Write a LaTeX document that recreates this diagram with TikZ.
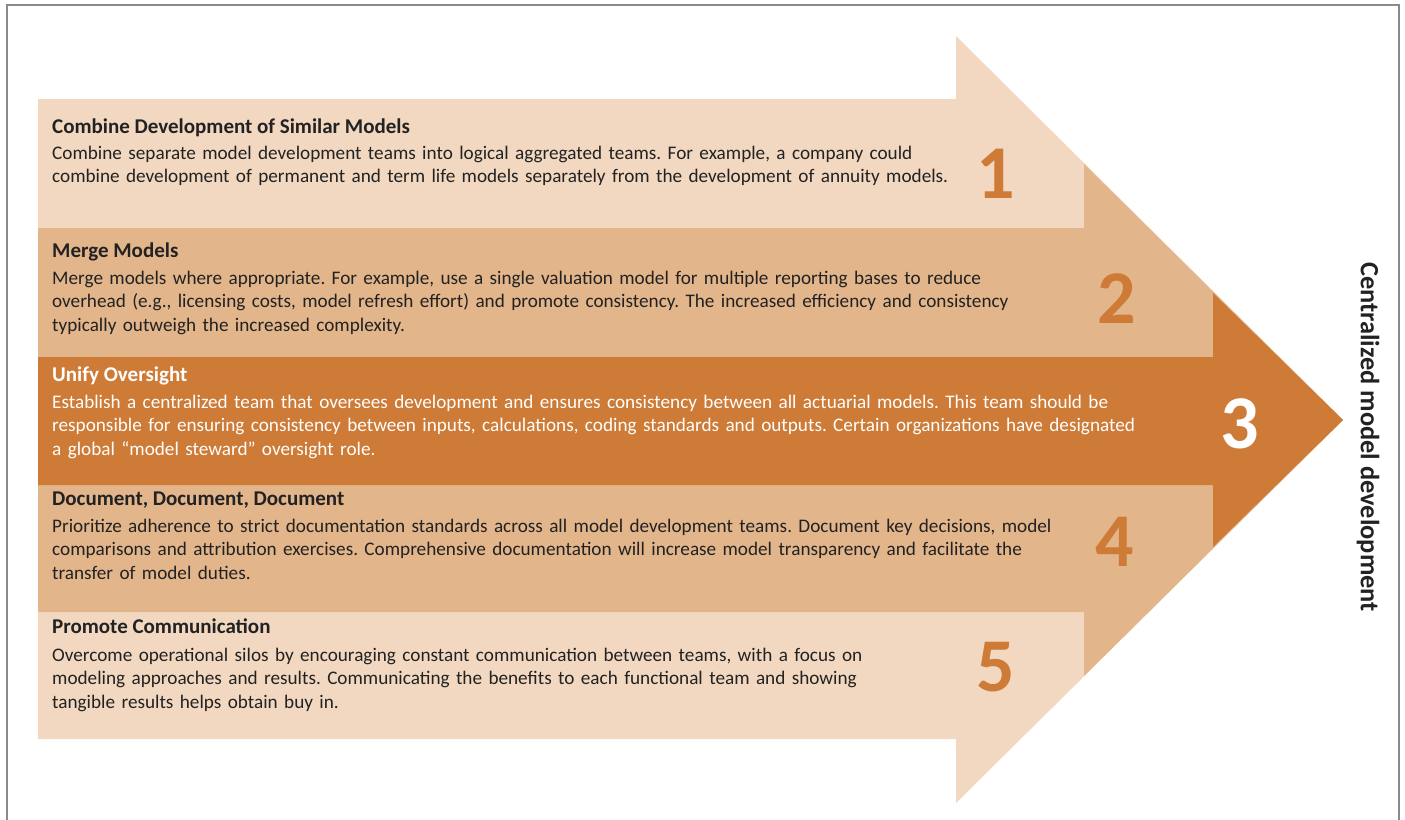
\documentclass[tikz,border=0pt]{standalone}
\usepackage{fontspec}
\setmainfont{Carlito}
\frenchspacing
\definecolor{lightband}{HTML}{F2D8C0}
\definecolor{midband}{HTML}{E3B58B}
\definecolor{darkband}{HTML}{CD7B36}
\definecolor{bodytext}{HTML}{222222}
\definecolor{framegray}{HTML}{8A8A8A}
\tikzset{
  bandtitle/.style={anchor=base west, inner sep=0pt, font=\fontsize{21}{24}\selectfont\bfseries, text=bodytext},
  bandbody/.style={anchor=base west, inner sep=0pt, text width=1250pt, align=left, font=\fontsize{19.2}{23.7}\selectfont, text=bodytext},
  bignum/.style={inner sep=0pt, font=\fontsize{76}{76}\selectfont\bfseries, text=darkband},
}
\begin{document}
\begin{tikzpicture}[x=1pt,y=-1pt]
\useasboundingbox (0,0) rectangle (1405,819);
% frame
\draw[framegray, line width=1.5pt] (7,830) -- (7,5) -- (1399,5) -- (1399,830);
% nested arrows
\fill[lightband] (38,99) -- (956,99) -- (956,36) -- (1343,420) -- (956,803) -- (956,739) -- (38,739) -- cycle;
\fill[midband] (38,228) -- (1084,228) -- (1084,164) -- (1343,420) -- (1084,676) -- (1084,612) -- (38,612) -- cycle;
\fill[darkband] (38,357) -- (1213,357) -- (1213,293) -- (1343,420) -- (1213,547) -- (1213,485) -- (38,485) -- cycle;
% band 1
\node[bandtitle] (t1) at (52,133) {Combine Development of Similar Models};
\node[bandbody] (b1) at (52,159) {Combine separate model development teams into logical aggregated teams. For example, a company could\\combine development of permanent and term life models separately from the development of annuity models.};
\node[bignum] (n1) at (996,174) {1};
% band 2
\node[bandtitle] (t2) at (52,257) {Merge Models};
\node[bandbody] (b2) at (52,284) {Merge models where appropriate. For example, use a single valuation model for multiple reporting bases to reduce\\overhead (e.g., licensing costs, model refresh effort) and promote consistency. The increased efficiency and consistency\\typically outweigh the increased complexity.};
\node[bignum] (n2) at (1117,299) {2};
% band 3
\node[bandtitle, text=white] (t3) at (52,381) {Unify Oversight};
\node[bandbody, text=white] (b3) at (52,408) {Establish a centralized team that oversees development and ensures consistency between all actuarial models. This team should be\\responsible for ensuring consistency between inputs, calculations, coding standards and outputs. Certain organizations have designated\\a global “model steward” oversight role.};
\node[bignum, text=white] (n3) at (1240,424) {3};
% band 4
\node[bandtitle] (t4) at (52,505) {Document, Document, Document};
\node[bandbody] (b4) at (52,532) {Prioritize adherence to strict documentation standards across all model development teams. Document key decisions, model\\comparisons and attribution exercises. Comprehensive documentation will increase model transparency and facilitate the\\transfer of model duties.};
\node[bignum] (n4) at (1115,542) {4};
% band 5
\node[bandtitle] (t5) at (52,633) {Promote Communication};
\node[bandbody] (b5) at (52,661) {Overcome operational silos by encouraging constant communication between teams, with a focus on\\modeling approaches and results. Communicating the benefits to each functional team and showing\\tangible results helps obtain buy in.};
\node[bignum] (n5) at (996,667) {5};
% side label
\node[rotate=-90, inner sep=0pt, font=\fontsize{26.4}{26.4}\selectfont\bfseries, text=bodytext] (side) at (1368,437) {Centralized model development};
\end{tikzpicture}
\end{document}
